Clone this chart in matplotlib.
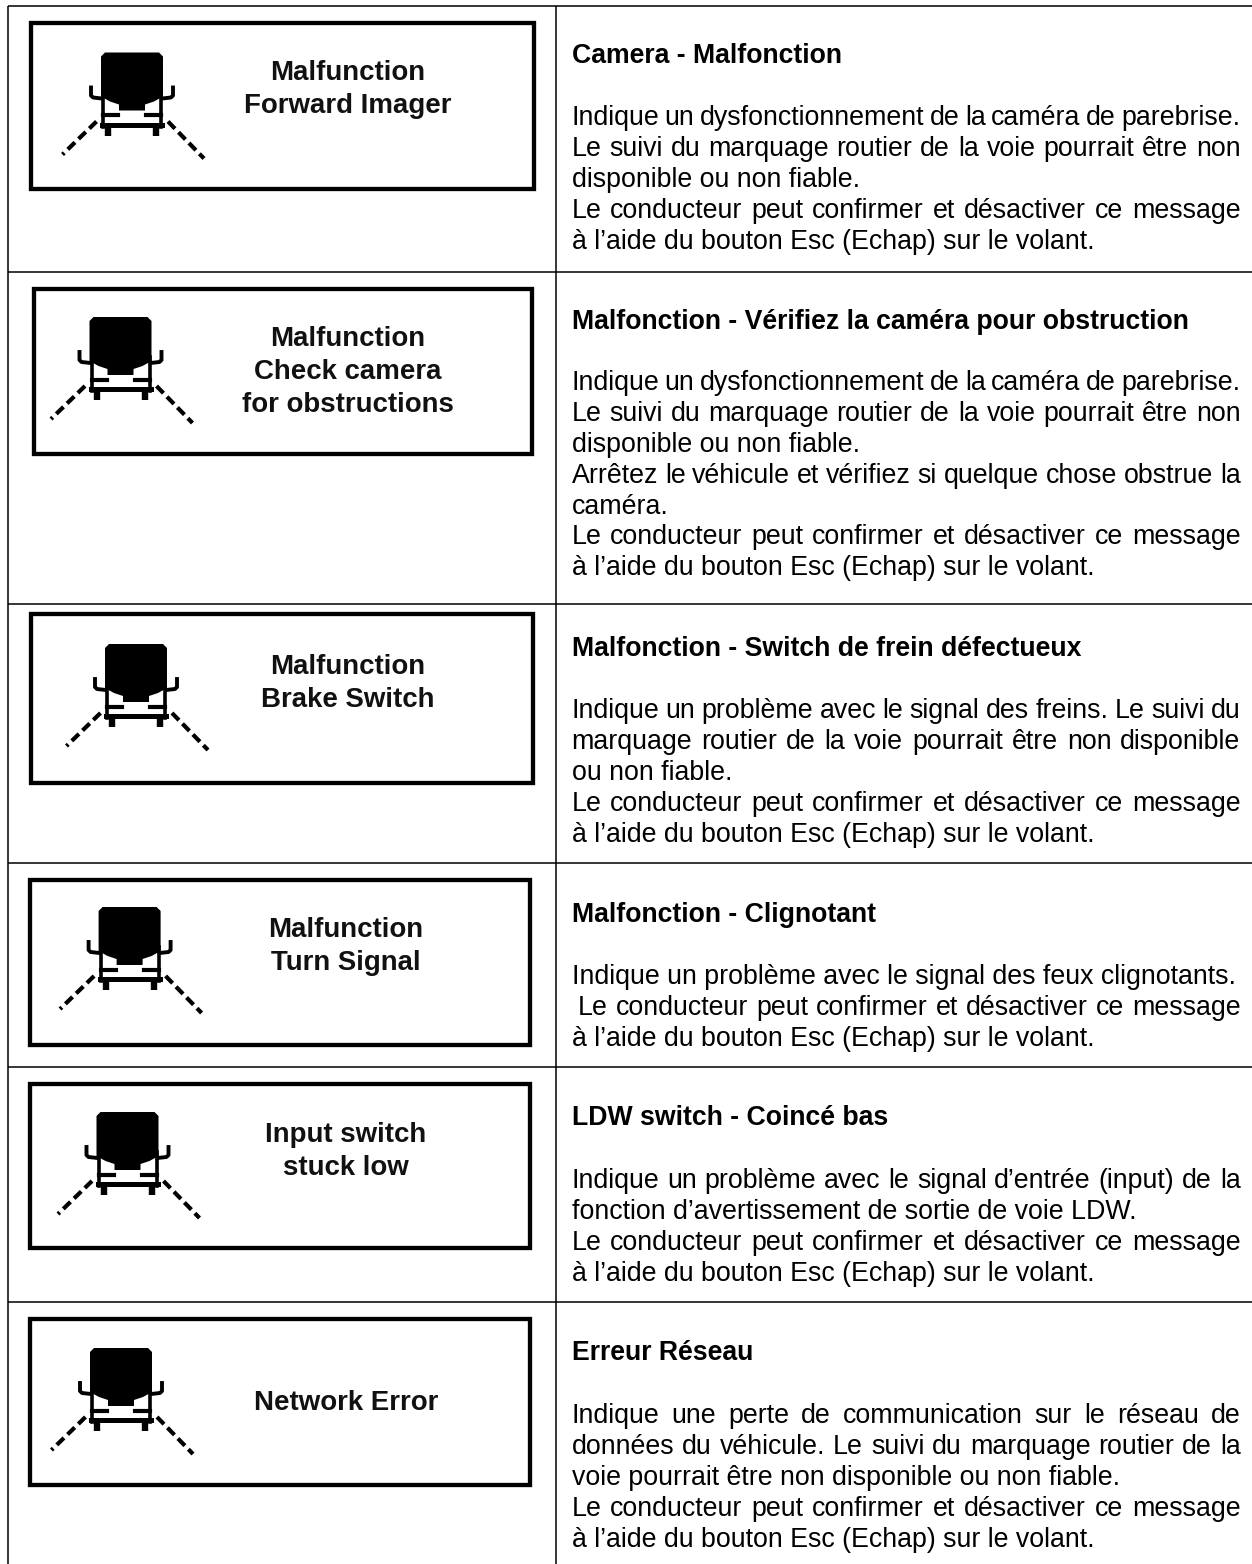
import matplotlib
matplotlib.use('Agg')
import matplotlib.pyplot as plt
from matplotlib.patches import Rectangle, Polygon

# textes du tableau
screen_labels = [
    ['Malfunction', 'Forward Imager'],
    ['Malfunction', 'Check camera', 'for obstructions'],
    ['Malfunction', 'Brake Switch'],
    ['Malfunction', 'Turn Signal'],
    ['Input switch', 'stuck low'],
    ['Network Error'],
]
titles = [
    'Camera - Malfonction',
    'Malfonction - Vérifiez la caméra pour obstruction',
    'Malfonction - Switch de frein défectueux',
    'Malfonction - Clignotant',
    'LDW switch - Coincé bas',
    'Erreur Réseau',
]
confirm = ['Le conducteur peut confirmer et désactiver ce message',
           'à l’aide du bouton Esc (Echap) sur le volant.']
# (texte, justifié)
bodies = [
    [('Indique un dysfonctionnement de la caméra de parebrise.', True),
     ('Le suivi du marquage routier de la voie pourrait être non', True),
     ('disponible ou non fiable.', False),
     (confirm[0], True), (confirm[1], False)],
    [('Indique un dysfonctionnement de la caméra de parebrise.', True),
     ('Le suivi du marquage routier de la voie pourrait être non', True),
     ('disponible ou non fiable.', False),
     ('Arrêtez le véhicule et vérifiez si quelque chose obstrue la', True),
     ('caméra.', False),
     (confirm[0], True), (confirm[1], False)],
    [('Indique un problème avec le signal des freins. Le suivi du', True),
     ('marquage routier de la voie pourrait être non disponible', True),
     ('ou non fiable.', False),
     (confirm[0], True), (confirm[1], False)],
    [('Indique un problème avec le signal des feux clignotants.', False),
     (' ' + confirm[0], True), (confirm[1], False)],
    [('Indique un problème avec le signal d’entrée (input) de la', True),
     ('fonction d’avertissement de sortie de voie LDW.', False),
     (confirm[0], True), (confirm[1], False)],
    [('Indique une perte de communication sur le réseau de', True),
     ('données du véhicule. Le suivi du marquage routier de la', True),
     ('voie pourrait être non disponible ou non fiable.', False),
     (confirm[0], True), (confirm[1], False)],
]

# positions en pixels
row_lines = [6, 272, 604, 863, 1067, 1302]
boxes = [(30.5, 23, 533.5, 189), (33.5, 289, 532, 454), (30.5, 614, 533, 783),
         (30, 880, 530, 1045), (30, 1084, 530, 1248), (30, 1319, 530, 1485)]
truck_pos = [(132, 52.5), (120.5, 317), (136, 644), (129.6, 907), (127.5, 1112), (121, 1348)]
label_x = [347.5, 348, 347.5, 346, 346, 346]
label_y = [80.5, 346.5, 674, 937, 1142, 1410]
title_y = [63, 329, 656, 922, 1125, 1360]
body_y = [125, 390, 718, 984, 1188, 1423]
LINE_H = 30.9
TEXT_L, TEXT_R = 571.5, 1240.5
FONT = 'Liberation Sans'
FS = 19.25

fig = plt.figure(figsize=(12.52, 15.64), dpi=100)
ax = fig.add_axes([0, 0, 1, 1])
ax.set_xlim(0, 1252)
ax.set_ylim(1564, 0)
ax.axis('off')


def draw_truck(cx, top):
    # cabine
    shape = [(-27, 0), (27, 0), (31, 4), (31, 44), (22, 49), (13, 52), (13, 58),
             (-13, 58), (-13, 52), (-22, 49), (-31, 44), (-31, 4)]
    ax.add_patch(Polygon([(cx + a, top + b) for a, b in shape], fc='black', ec='none'))
    # cadre avant et pare-chocs
    for s in (-1, 1):
        ax.plot([cx + s * 29, cx + s * 29], [top + 40, top + 74], color='black', lw=2.6)
        ax.plot([cx + s * 14, cx + s * 29], [top + 62.5, top + 62.5], color='black', lw=3)
        # retroviseurs
        ax.plot([cx + s * 30, cx + s * 39, cx + s * 41, cx + s * 41],
                [top + 46, top + 45, top + 43, top + 35], color='black', lw=2.8)
        # roues
        ax.plot([cx + s * 24, cx + s * 24], [top + 72, top + 83], color='black', lw=4.6, solid_capstyle='butt')
    ax.plot([cx - 30, cx + 30], [top + 72, top + 72], color='black', lw=3.6)
    # marquage de voie
    ax.plot([cx - 35.5, cx - 69.5], [top + 69, top + 102], color='black', lw=3, dashes=(2.4, 1.2))
    ax.plot([cx + 36, cx + 72], [top + 69, top + 106], color='black', lw=3, dashes=(2.4, 1.2))


def justified(text, y):
    # espace les mots pour aller jusqu'à la marge droite
    words = text.split()
    r = fig.canvas.get_renderer()
    x0 = TEXT_L + (6.5 if text.startswith(' ') else 0)
    items = [ax.text(0, y, w, fontsize=FS, family=FONT, va='baseline', color='black') for w in words]
    widths = [t.get_window_extent(r).width for t in items]
    gap = (TEXT_R - x0 - sum(widths)) / (len(words) - 1)
    x = x0
    for t, w in zip(items, widths):
        t.set_x(x)
        x += w + gap


# lignes du tableau
for y in row_lines:
    ax.plot([7.5, 1252], [y, y], color='black', lw=1.1, solid_capstyle='butt')
ax.plot([556, 556], [6, 1564], color='black', lw=1.1, solid_capstyle='butt')
ax.plot([7.5, 7.5], [6, 1564], color='black', lw=1.1, solid_capstyle='butt')

for i in range(6):
    l, t, r, b = boxes[i]
    ax.add_patch(Rectangle((l, t), r - l, b - t, fc='white', ec='black', lw=3.1))
    draw_truck(*truck_pos[i])
    for k, s in enumerate(screen_labels[i]):
        ax.text(label_x[i], label_y[i] + k * 32.8, s, fontsize=19.9, family=FONT, weight='bold',
                ha='center', va='baseline', color='#111111')
    ax.text(TEXT_L, title_y[i], titles[i], fontsize=19.15, family=FONT, weight='bold', va='baseline')
    for k, (s, just) in enumerate(bodies[i]):
        y = body_y[i] + k * LINE_H
        if just:
            justified(s, y)
        else:
            ax.text(TEXT_L, y, s, fontsize=FS, family=FONT, va='baseline')

fig.savefig('out.png', dpi=100, facecolor='white')
